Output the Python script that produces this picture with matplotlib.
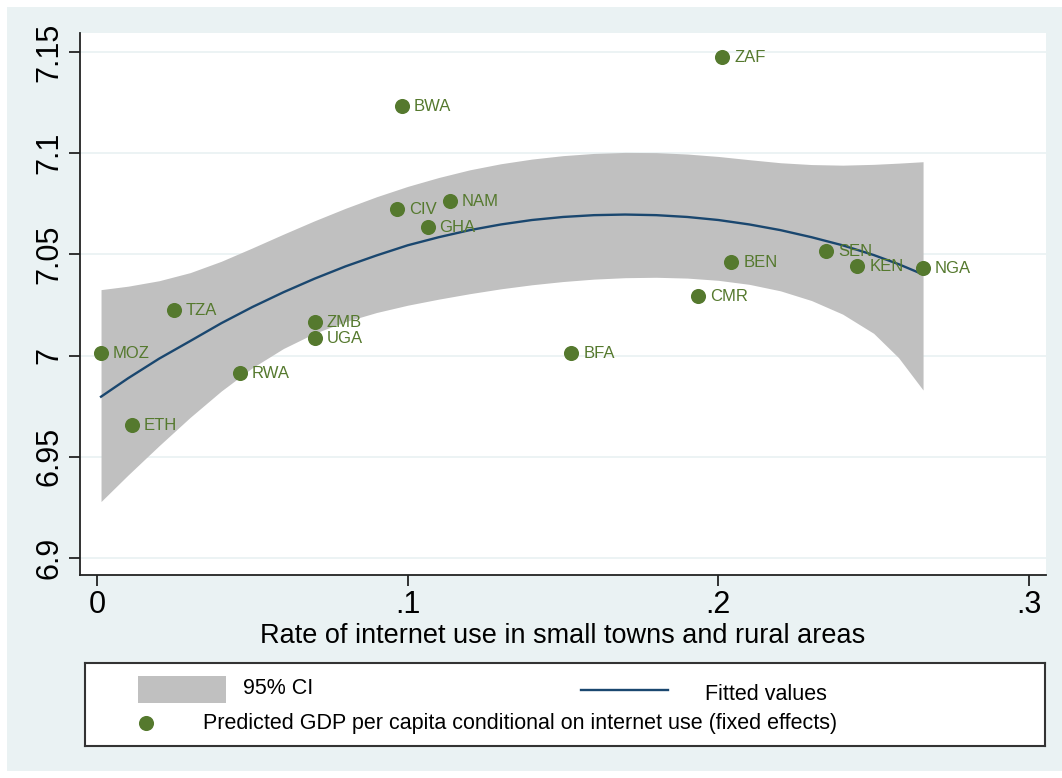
import matplotlib
matplotlib.use("Agg")
import matplotlib.pyplot as plt
from matplotlib.patches import Rectangle

# predicted log GDP per capita vs. rural internet use, by country
countries = ["MOZ", "ETH", "TZA", "RWA", "ZMB", "UGA", "CIV", "BWA", "GHA", "NAM",
             "BFA", "CMR", "ZAF", "BEN", "SEN", "KEN", "NGA"]
internet = [0.0013, 0.0113, 0.0248, 0.0460, 0.0701, 0.0701, 0.0965, 0.0981, 0.1064, 0.1135,
            0.1527, 0.1936, 0.2013, 0.2042, 0.2347, 0.2447, 0.2659]
gdp_pred = [7.0015, 6.9659, 7.0227, 6.9916, 7.0168, 7.0089, 7.0726, 7.1235, 7.0637, 7.0766,
            7.0015, 7.0296, 7.1477, 7.0464, 7.0519, 7.0445, 7.0435]

# quadratic fit with 95% confidence band
fit_x = [0.0013, 0.01, 0.02, 0.03, 0.04, 0.05, 0.06, 0.07, 0.08, 0.09,
         0.10, 0.11, 0.12, 0.13, 0.14, 0.15, 0.16, 0.17, 0.18, 0.19,
         0.20, 0.21, 0.22, 0.23, 0.24, 0.25, 0.258, 0.2659]
fit_y = [6.9797, 6.9888, 6.9985, 7.0072, 7.0160, 7.0240, 7.0313, 7.0380, 7.0441, 7.0495,
         7.0545, 7.0585, 7.0620, 7.0648, 7.0670, 7.0685, 7.0694, 7.0697, 7.0694, 7.0685,
         7.0670, 7.0648, 7.0620, 7.0585, 7.0545, 7.0497, 7.0452, 7.0401]
ci_hi = [7.0326, 7.0343, 7.0370, 7.0410, 7.0466, 7.0532, 7.0600, 7.0666, 7.0728, 7.0785,
         7.0836, 7.0880, 7.0918, 7.0948, 7.0971, 7.0988, 7.0999, 7.1004, 7.1003, 7.0996,
         7.0984, 7.0968, 7.0953, 7.0944, 7.0941, 7.0945, 7.0951, 7.0958]
ci_lo = [6.9279, 6.9410, 6.9555, 6.9695, 6.9825, 6.9940, 7.0035, 7.0110, 7.0168, 7.0213,
         7.0249, 7.0279, 7.0306, 7.0330, 7.0350, 7.0366, 7.0378, 7.0385, 7.0387, 7.0383,
         7.0372, 7.0352, 7.0320, 7.0272, 7.0205, 7.0110, 6.9990, 6.9830]

x_ticks = [0, 0.1, 0.2, 0.3]
x_ticklabels = ["0", ".1", ".2", ".3"]
y_ticks = [6.9, 6.95, 7.0, 7.05, 7.1, 7.15]
y_ticklabels = ["6.9", "6.95", "7", "7.05", "7.1", "7.15"]

bg = "#eaf2f3"
green = "#55792e"
navy = "#1a476f"
band = "#c0c0c0"
font = ["Liberation Sans", "DejaVu Sans"]

W, H = 1062, 778
fig = plt.figure(figsize=(W / 100, H / 100), dpi=100, facecolor="white")
fig.patches.append(Rectangle((7 / W, 7 / H), (W - 7) / W, (H - 14) / H,
                             transform=fig.transFigure, facecolor=bg, edgecolor="none", zorder=-10))

ax = fig.add_axes([80 / W, 1 - 575 / H, (1046 - 80) / W, (575 - 33) / H])
ax.set_facecolor("white")
ax.set_xlim(-0.00547, 0.30547)
ax.set_ylim(6.8916, 7.1594)

ax.fill_between(fit_x, ci_lo, ci_hi, color=band, lw=0, zorder=2)
ax.plot(fit_x, fit_y, color=navy, lw=1.7, zorder=3)
ax.scatter(internet, gdp_pred, s=118, color=green, lw=0, zorder=4)
for name, x, y in zip(countries, internet, gdp_pred):
    ax.annotate(name, (x, y), xytext=(8.6, -0.6), textcoords="offset points",
                va="center", ha="left", fontsize=12, color=green, family=font, zorder=5)

ax.set_yticks(y_ticks)
ax.set_yticklabels(y_ticklabels, rotation=90, va="center")
ax.set_xticks(x_ticks)
ax.set_xticklabels(x_ticklabels)
ax.yaxis.grid(True, color=bg, lw=1.3, zorder=1)
ax.set_axisbelow(True)
for s in ["top", "right"]:
    ax.spines[s].set_visible(False)
for s in ["left", "bottom"]:
    ax.spines[s].set_color("#222222")
    ax.spines[s].set_linewidth(1.3)
ax.tick_params(direction="out", length=8, width=1.3, color="#222222", labelsize=22)
ax.tick_params(axis="y", pad=3)
ax.tick_params(axis="x", pad=3)
for lab in ax.get_xticklabels() + ax.get_yticklabels():
    lab.set_family(font)
ax.set_xlabel("Rate of internet use in small towns and rural areas",
              fontsize=19.5, family=font, labelpad=2)

# legend box drawn in pixel units
lx0, ly0, lx1, ly1 = 85, 663, 1045, 746
lax = fig.add_axes([lx0 / W, 1 - ly1 / H, (lx1 - lx0) / W, (ly1 - ly0) / H])
lax.set_xlim(lx0, lx1)
lax.set_ylim(ly1, ly0)
lax.set_xticks([])
lax.set_yticks([])
lax.set_facecolor("white")
for s in lax.spines.values():
    s.set_color("#333333")
    s.set_linewidth(1.5)
lax.add_patch(Rectangle((138, 676), 88, 27, facecolor=band, edgecolor="none"))
lax.text(243, 689, "95% CI", fontsize=15.5, family=font, va="center", ha="left")
lax.plot([581, 668], [690, 690], color=navy, lw=1.7)
lax.text(705, 695, "Fitted values", fontsize=15.5, family=font, va="center", ha="left")
lax.scatter([146], [723], s=118, color=green, lw=0)
lax.text(203, 724, "Predicted GDP per capita conditional on internet use (fixed effects)",
         fontsize=15.5, family=font, va="center", ha="left")

fig.savefig("out.png", dpi=100, facecolor="white")
